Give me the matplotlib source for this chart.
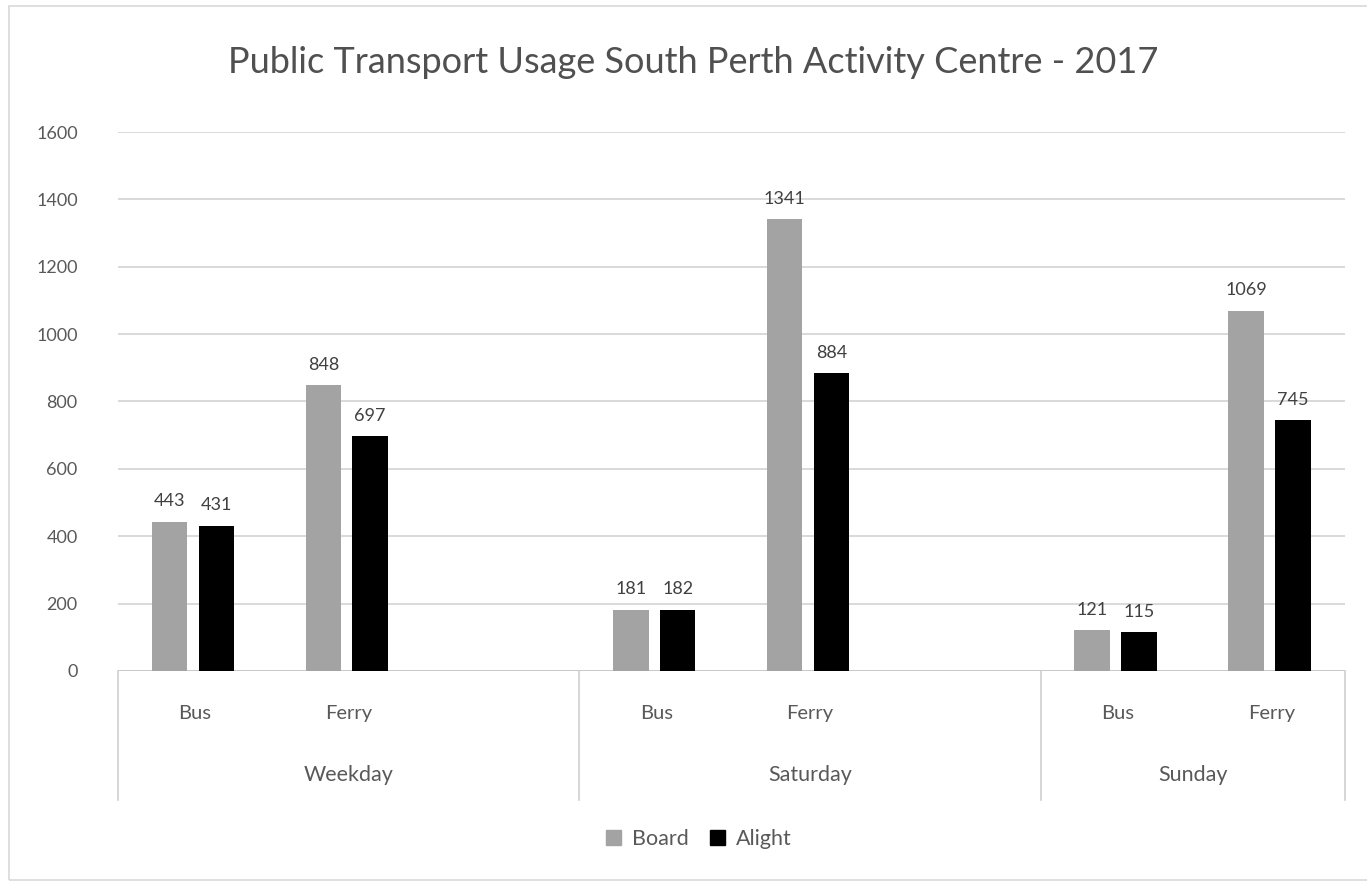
import matplotlib.pyplot as plt
from matplotlib.patches import Rectangle
from matplotlib.lines import Line2D

plt.rcParams['font.family'] = ['Lato', 'DejaVu Sans']

days = ["Weekday", "Saturday", "Sunday"]
modes = ["Bus", "Ferry"]
board = [443, 848, 181, 1341, 121, 1069]
alight = [431, 697, 182, 884, 115, 745]
y_ticks = [0, 200, 400, 600, 800, 1000, 1200, 1400, 1600]

board_color = "#a3a3a3"
alight_color = "#000000"
text_color = "#595959"
grid_color = "#d9d9d9"

fig = plt.figure(figsize=(13.67, 8.86), dpi=100)
ax = fig.add_axes([0.0863, 0.2427, 0.8977, 0.6083])

# each day occupies three slots; bus and ferry use the first two
slots_per_day = 3
positions = []
labels = []
for d_i, day in enumerate(days):
    for m_i, mode in enumerate(modes):
        positions.append(d_i * slots_per_day + m_i)
        labels.append(mode)

width = 0.23
off_b, off_a = -0.165, 0.14
xb = [p + off_b for p in positions]
xa = [p + off_a for p in positions]
ax.bar(xb, board, width=width, color=board_color, zorder=3)
ax.bar(xa, alight, width=width, color=alight_color, zorder=3)

for x, v in zip(xb, board):
    ax.annotate(str(v), (x, v), xytext=(0, 9), textcoords="offset points",
                ha="center", va="bottom", fontsize=13, color="#404040")
for x, v in zip(xa, alight):
    ax.annotate(str(v), (x, v), xytext=(0, 9), textcoords="offset points",
                ha="center", va="bottom", fontsize=13, color="#404040")

x_left, x_right = -0.5, 7.48
ax.set_xlim(x_left, x_right)
ax.set_ylim(0, 1600)
ax.set_yticks(y_ticks)
ax.set_yticklabels([str(t) for t in y_ticks], fontsize=13, color=text_color)
ax.tick_params(axis="y", length=0, pad=29)
ax.set_xticks([])
ax.grid(axis="y", color=grid_color, linewidth=1.4, zorder=0)
for s in ax.spines.values():
    s.set_visible(False)
ax.axhline(0, color="#c8c8c8", linewidth=1.4, zorder=2)

# two-level category axis drawn below the plot area
trans = ax.get_xaxis_transform()
for p, lab in zip(positions, labels):
    ax.text(p, -0.078, lab, transform=trans, ha="center", va="center",
            fontsize=14.5, color=text_color, clip_on=False)

bounds = [x_left + i * slots_per_day for i in range(len(days))] + [x_right]
for b in bounds:
    ax.add_line(Line2D([b, b], [0, -0.24], transform=trans, color="#d0d0d0",
                       linewidth=1.2, clip_on=False))
for i, day in enumerate(days):
    mid = (bounds[i] + bounds[i + 1]) / 2
    ax.text(mid, -0.193, day, transform=trans, ha="center", va="center",
            fontsize=15.5, color=text_color, clip_on=False)

fig.text(0.507, 0.930, "Public Transport Usage South Perth Activity Centre - 2017",
         ha="center", va="center", fontsize=26, color="#505050")

# legend
handles = [Rectangle((0, 0), 1, 1, color=board_color),
           Rectangle((0, 0), 1, 1, color=alight_color)]
fig.legend(handles, ["Board", "Alight"], loc="center", bbox_to_anchor=(0.511, 0.053),
           ncol=2, frameon=False, fontsize=15.5, handlelength=0.7, handleheight=0.7,
           handletextpad=0.5, columnspacing=1.0, labelcolor=text_color)

# chart border
fig.patches.append(Rectangle((9 / 1367, 1 - 880 / 886), 1.2, (880 - 6) / 886,
                             transform=fig.transFigure, fill=False,
                             edgecolor="#d9d9d9", linewidth=1.2))

fig.savefig("out.png", dpi=100, facecolor="white")
